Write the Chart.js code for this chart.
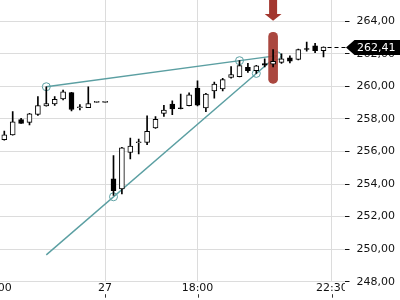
<!DOCTYPE html>
<html>
<head>
<meta charset="utf-8">
<script src="https://cdn.jsdelivr.net/npm/chart.js@4.4.1/dist/chart.umd.min.js"></script>
<style>
  html, body { margin: 0; padding: 0; background: #fff; overflow: hidden; }
  #wrap { position: absolute; left: -30px; top: 0; width: 430px; height: 300px; }
</style>
</head>
<body>
<div id="wrap"><canvas id="chart"></canvas></div>
<script>
// candles, one per slot (index = slot on the time axis)
const opens  = [256.72, 257.02, 257.96, 257.79, 258.28, 258.80, 258.92, 259.23, 259.62, 258.70,
                258.70, 259.02, 259.02, 254.32, 253.70, 255.95, 256.55, 256.56, 257.45, 258.34,
                258.92, 258.69, 258.82, 259.90, 258.68, 259.73, 259.84, 260.56, 260.60, 261.17,
                260.97, 261.40, 261.36, 261.48, 261.76, 261.66, 262.33, 262.50, 262.19]
const highs  = [257.26, 258.45, 258.04, 258.35, 259.37, 259.98, 259.37, 259.78, 259.64, 258.88,
                259.98, 259.08, 259.08, 255.75, 256.25, 256.83, 256.77, 258.20, 258.14, 258.83,
                259.12, 259.53, 259.61, 260.35, 259.57, 260.26, 260.50, 261.22, 261.58, 261.42,
                261.30, 261.70, 262.27, 262.00, 261.88, 262.30, 262.72, 262.65, 262.43]
const lows   = [256.70, 257.00, 257.72, 257.63, 258.22, 258.79, 258.83, 259.17, 258.50, 258.55,
                258.69, 259.02, 259.02, 253.30, 253.40, 255.55, 255.85, 256.42, 257.42, 258.16,
                258.26, 258.62, 258.80, 258.80, 258.45, 259.28, 259.73, 260.50, 260.58, 260.86,
                260.80, 261.20, 261.20, 261.42, 261.45, 261.63, 262.17, 262.07, 261.82]
const closes = [257.02, 257.83, 257.73, 258.31, 258.82, 258.94, 259.20, 259.66, 258.58, 258.74,
                258.94, 259.08, 259.08, 253.60, 256.22, 256.34, 256.59, 257.24, 257.98, 258.55,
                258.61, 258.63, 259.49, 258.85, 259.53, 260.15, 260.42, 260.73, 261.28, 260.97,
                261.26, 261.30, 261.54, 261.70, 261.55, 262.27, 262.28, 262.20, 262.41]

// time axis labels and the slots they sit on
const xTickIdx  = [-1, 12, 23, 39]
const xTickText = ['10:00', '27', '18:00', '22:30']

// trend lines drawn on the chart (slot, price)
const upperLine = [{x: 5, y: 259.98}, {x: 32.45, y: 261.89}]
const lowerLine = [{x: 5, y: 249.65}, {x: 32.45, y: 261.89}]
const touchPoints = [{x: 5, y: 259.98}, {x: 28, y: 261.58}, {x: 13, y: 253.22}, {x: 30, y: 260.80}, {x: 32.45, y: 261.89}]

// highlighted candle with its arrow
const markerIdx = 32
const markerRange = [260.19, 263.32]
const arrowNeck = 264.45
const arrowTip = 264.04

const lastClose = closes[closes.length - 1]
const fmt = v => v.toFixed(2).replace('.', ',')

const teal = '#5b9fa2'
const red = '#a3372f'

Chart.defaults.font.family = 'DejaVu Sans'
Chart.defaults.font.size = 11
Chart.defaults.color = '#111'

const extras = {
  id: 'extras',
  beforeDatasetsDraw(chart) {
    // the price axis panel hides the part of the time labels that runs past the plot
    const {ctx, chartArea} = chart
    ctx.save()
    ctx.fillStyle = '#fff'
    ctx.fillRect(chartArea.right + 0.5, chartArea.bottom + 1, 12, chart.height - chartArea.bottom)
    ctx.restore()
  },
  afterDraw(chart) {
    const {ctx, chartArea} = chart
    const xs = chart.scales.x, ys = chart.scales.y
    ctx.save()

    // small tick marks under the time labels
    ctx.strokeStyle = '#333'
    ctx.lineWidth = 1
    xTickIdx.forEach(v => {
      const x = Math.round(xs.getPixelForValue(v)) + 0.5
      ctx.beginPath()
      ctx.moveTo(x, chartArea.bottom + 12.5)
      ctx.lineTo(x, chartArea.bottom + 16)
      ctx.stroke()
    })

    // arrow above the highlighted candle
    const ax = xs.getPixelForValue(markerIdx)
    const neck = ys.getPixelForValue(arrowNeck)
    const tip = ys.getPixelForValue(arrowTip)
    ctx.fillStyle = red
    ctx.beginPath()
    ctx.moveTo(ax - 4, chartArea.top)
    ctx.lineTo(ax + 4, chartArea.top)
    ctx.lineTo(ax + 4, neck)
    ctx.lineTo(ax + 8.4, neck)
    ctx.lineTo(ax, tip)
    ctx.lineTo(ax - 8.4, neck)
    ctx.lineTo(ax - 4, neck)
    ctx.closePath()
    ctx.fill()

    // last price line and tag
    const py = Math.round(ys.getPixelForValue(lastClose)) + 0.5
    ctx.strokeStyle = '#000'
    ctx.setLineDash([4, 3])
    ctx.beginPath()
    ctx.moveTo(xs.getPixelForValue(closes.length - 1) + 4, py)
    ctx.lineTo(chartArea.right + 2, py)
    ctx.stroke()
    ctx.setLineDash([])

    const tx = chartArea.right + 1.5
    ctx.fillStyle = '#000'
    ctx.beginPath()
    ctx.moveTo(tx, py)
    ctx.lineTo(tx + 8.5, py - 7.5)
    ctx.lineTo(chart.width, py - 7.5)
    ctx.lineTo(chart.width, py + 7.5)
    ctx.lineTo(tx + 8.5, py + 7.5)
    ctx.closePath()
    ctx.fill()
    ctx.fillStyle = '#fff'
    ctx.font = '11px "DejaVu Sans"'
    ctx.textBaseline = 'middle'
    ctx.textAlign = 'left'
    ctx.fillText(fmt(lastClose), tx + 11, py + 0.5)
    ctx.restore()
  }
}

const wickData = closes.map((c, i) => ({x: i, y: [lows[i], highs[i]]}))
const bodyData = closes.map((c, i) => ({x: i, y: [opens[i], c]}))
const bodyColors = closes.map((c, i) => c >= opens[i] ? '#ffffff' : '#000000')

new Chart(document.getElementById('chart'), {
  type: 'bar',
  data: {
    datasets: [
      {type: 'line', data: upperLine, borderColor: teal, borderWidth: 1.4, pointRadius: 0, order: 7},
      {type: 'line', data: lowerLine, borderColor: teal, borderWidth: 1.4, pointRadius: 0, order: 6},
      {type: 'line', data: touchPoints, showLine: false, pointRadius: 4, pointBorderWidth: 1,
       pointBorderColor: teal, pointBackgroundColor: 'rgba(0,0,0,0)', order: 5},
      {data: [{x: markerIdx, y: markerRange}], backgroundColor: 'rgba(163,55,47,0.92)', barThickness: 9,
       borderRadius: 4.5, borderSkipped: false, borderWidth: 0, grouped: false, order: 4},
      {data: wickData, backgroundColor: '#000', barThickness: 1, borderWidth: 0,
       borderSkipped: false, grouped: false, order: 3},
      {data: bodyData, backgroundColor: bodyColors, borderColor: '#000', borderWidth: 1,
       barThickness: 5, borderSkipped: false, grouped: false, order: 2}
    ]
  },
  options: {
    responsive: true,
    maintainAspectRatio: false,
    animation: false,
    layout: {autoPadding: false, padding: {left: 17.5, right: 0, top: 0, bottom: 0}},
    plugins: {legend: {display: false}, tooltip: {enabled: false}},
    scales: {
      x: {
        type: 'linear', min: -2, max: 40.5, offset: false,
        afterBuildTicks: s => { s.ticks = xTickIdx.map(v => ({value: v})) },
        ticks: {autoSkip: false, maxRotation: 0, padding: 0, callback: (v, i) => xTickText[i]},
        grid: {color: '#dcdcdc', drawTicks: false, offset: false},
        border: {display: false},
        afterFit: s => { s.height = 18.3; s.paddingLeft = 0; s.paddingRight = 0 }
      },
      y: {
        position: 'right', min: 248, max: 265.31, bounds: 'data',
        afterBuildTicks: s => { s.ticks = s.ticks.filter(t => t.value <= 264.01) },
        ticks: {stepSize: 2, includeBounds: false, padding: 7, callback: v => fmt(v)},
        grid: {color: '#dcdcdc', tickColor: '#111', tickLength: 5},
        border: {display: false},
        afterFit: s => { s.width = 55.5; s.paddingTop = 0; s.paddingBottom = 0 }
      }
    }
  },
  plugins: [extras]
})
</script>
</body>
</html>
